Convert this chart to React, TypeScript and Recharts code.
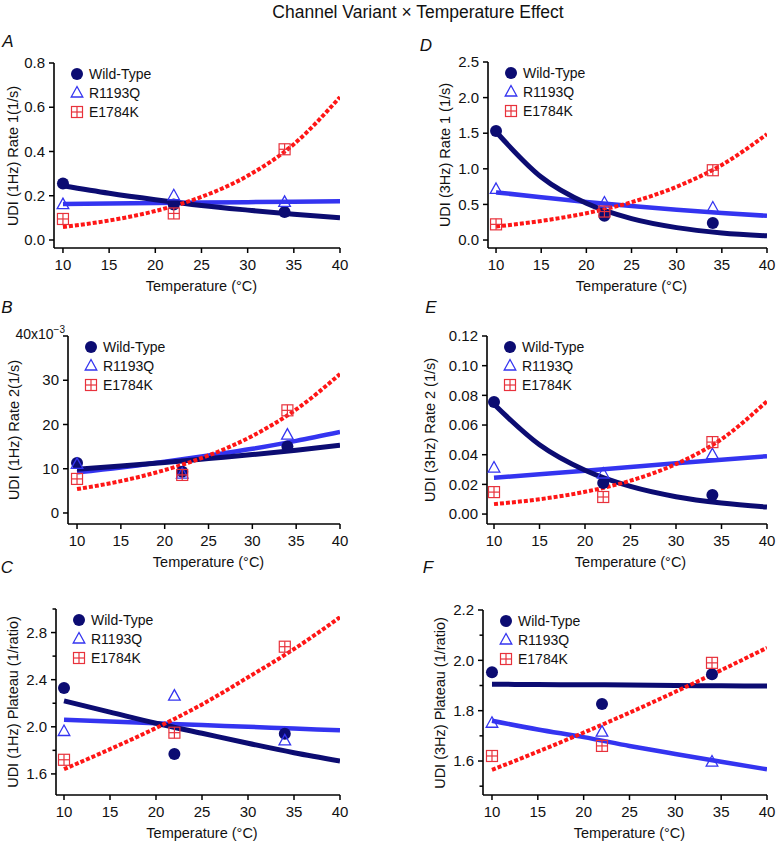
import React from 'react';
import { ComposedChart, Line, Scatter, XAxis, YAxis } from 'recharts';

// measured temperatures and the temperatures the fitted curves were read at
const tempPoints = [10, 22, 34];
const fitTemps = [10, 15, 20, 25, 30, 35, 40];
const xTicks = [10, 15, 20, 25, 30, 35, 40];

// A: UDI (1Hz) Rate 1
const wtRate1Hz1 = [0.255, 0.16, 0.127];
const rRate1Hz1 = [0.16, 0.2, 0.17];
const eRate1Hz1 = [0.095, 0.12, 0.41];
const wtRate1Hz1Fit = [0.245, 0.211, 0.182, 0.156, 0.135, 0.116, 0.1];
const rRate1Hz1Fit = [0.163, 0.165, 0.167, 0.169, 0.171, 0.173, 0.175];
const eRate1Hz1Fit = [0.059, 0.088, 0.131, 0.195, 0.29, 0.433, 0.646];
const rate1Hz1Ticks = [0, 0.2, 0.4, 0.6, 0.8];

// B: UDI (1Hz) Rate 2, in units of 10^-3
const wtRate2Hz1 = [11.3, 9.3, 15];
const rRate2Hz1 = [11, 8.8, 17.6];
const eRate2Hz1 = [7.7, 8.6, 23.2];
const wtRate2Hz1Fit = [9.9, 10.6, 11.4, 12.3, 13.2, 14.2, 15.3];
const rRate2Hz1Fit = [9.2, 10.3, 11.6, 13.0, 14.5, 16.3, 18.3];
const eRate2Hz1Fit = [5.4, 7.2, 9.7, 13.0, 17.4, 23.4, 31.4];
const rate2Hz1Ticks = [0, 10, 20, 30, 40];

// C: UDI (1Hz) Plateau
const wtPlateauHz1 = [2.33, 1.77, 1.94];
const rPlateauHz1 = [1.96, 2.26, 1.88];
const ePlateauHz1 = [1.72, 1.95, 2.68];
const wtPlateauHz1Fit = [2.22, 2.125, 2.03, 1.945, 1.86, 1.78, 1.71];
const rPlateauHz1Fit = [2.06, 2.045, 2.03, 2.015, 2.0, 1.985, 1.97];
const ePlateauHz1Fit = [1.64, 1.81, 1.99, 2.19, 2.42, 2.66, 2.93];
const plateauHz1Ticks = [1.6, 1.8, 2.0, 2.2, 2.4, 2.6, 2.8, 3.0];
const plateauHz1Labels = [1.6, 2.0, 2.4, 2.8];

// D: UDI (3Hz) Rate 1
const wtRate1Hz3 = [1.53, 0.34, 0.24];
const rRate1Hz3 = [0.71, 0.52, 0.45];
const eRate1Hz3 = [0.22, 0.4, 0.98];
const wtRate1Hz3Fit = [1.52, 0.885, 0.515, 0.3, 0.174, 0.1, 0.059];
const rRate1Hz3Fit = [0.67, 0.6, 0.534, 0.477, 0.426, 0.38, 0.34];
const eRate1Hz3Fit = [0.19, 0.268, 0.377, 0.531, 0.749, 1.055, 1.487];
const rate1Hz3Ticks = [0, 0.5, 1.0, 1.5, 2.0, 2.5];

// E: UDI (3Hz) Rate 2
const wtRate2Hz3 = [0.0755, 0.021, 0.0128];
const rRate2Hz3 = [0.031, 0.027, 0.04];
const eRate2Hz3 = [0.0148, 0.0115, 0.0485];
const wtRate2Hz3Fit = [0.074, 0.0467, 0.0295, 0.0186, 0.0117, 0.0074, 0.0047];
const rRate2Hz3Fit = [0.0245, 0.0268, 0.0292, 0.0317, 0.0342, 0.0366, 0.039];
const eRate2Hz3Fit = [0.0067, 0.01, 0.015, 0.0225, 0.0337, 0.0505, 0.076];
const rate2Hz3Ticks = [0, 0.02, 0.04, 0.06, 0.08, 0.1, 0.12];

// F: UDI (3Hz) Plateau
const wtPlateauHz3 = [1.953, 1.827, 1.945];
const rPlateauHz3 = [1.75, 1.715, 1.596];
const ePlateauHz3 = [1.62, 1.66, 1.99];
const wtPlateauHz3Fit = [1.905, 1.904, 1.903, 1.902, 1.9, 1.899, 1.898];
const rPlateauHz3Fit = [1.76, 1.725, 1.695, 1.66, 1.628, 1.597, 1.567];
const ePlateauHz3Fit = [1.565, 1.637, 1.713, 1.792, 1.875, 1.961, 2.05];
const plateauHz3Ticks = [1.5, 1.6, 1.7, 1.8, 1.9, 2.0, 2.1, 2.2];
const plateauHz3Labels = [1.6, 1.8, 2.0, 2.2];

const seriesNames = ['Wild-Type', 'R1193Q', 'E1784K'];

const NAVY = '#0c0c72';
const BLUE = '#3434f0';
const RED = '#ff1616';
const RED_MARK = '#e8323c';
const FONT = '"Liberation Sans", Arial, Helvetica, sans-serif';

const toPts = (xs: number[], ys: number[]) => xs.map((x, i) => ({ x, y: ys[i] }));

const CircleMark = ({ cx, cy }: any) => <circle cx={cx} cy={cy} r={6} fill={NAVY} />;

const TriMark = ({ cx, cy }: any) => (
  <path
    d={`M${cx},${cy - 6.5}L${cx + 5.8},${cy + 4}L${cx - 5.8},${cy + 4}Z`}
    fill="none"
    stroke={BLUE}
    strokeWidth={1.3}
  />
);

const BoxMark = ({ cx, cy }: any) => (
  <g stroke={RED_MARK} strokeWidth={1.2} fill="none">
    <rect x={cx - 5.5} y={cy - 5.5} width={11} height={11} />
    <line x1={cx - 5.5} x2={cx + 5.5} y1={cy} y2={cy} />
    <line x1={cx} x2={cx} y1={cy - 5.5} y2={cy + 5.5} />
  </g>
);

interface PanelCfg {
  letter: string;
  letterX: number;
  letterY: number;
  colLeft: number;
  axisX: number;
  x40: number;
  plotTop: number;
  plotBottom: number;
  xMin: number;
  yDomain: [number, number];
  yTicks: number[];
  yLabels?: number[];
  fmt: (v: number) => string;
  ylabel: string;
  ylabelX: number;
  series: number[][];
  fits: number[][];
}

const panels: PanelCfg[] = [
  {
    letter: 'A', letterX: 2, letterY: 41, colLeft: 0, axisX: 54, x40: 340, plotTop: 63, plotBottom: 248,
    xMin: 9.03, yDomain: [-0.0362, 0.8], yTicks: rate1Hz1Ticks, fmt: (v) => v.toFixed(1),
    ylabel: 'UDI (1Hz) Rate 1(1/s)', ylabelX: 13,
    series: [wtRate1Hz1, rRate1Hz1, eRate1Hz1], fits: [wtRate1Hz1Fit, rRate1Hz1Fit, eRate1Hz1Fit],
  },
  {
    letter: 'B', letterX: 1, letterY: 307, colLeft: 0, axisX: 68, x40: 340, plotTop: 336, plotBottom: 524,
    xMin: 8.97, yDomain: [-2.49, 40], yTicks: rate2Hz1Ticks, fmt: (v) => String(v),
    ylabel: 'UDI (1Hz) Rate 2(1/s)', ylabelX: 14,
    series: [wtRate2Hz1, rRate2Hz1, eRate2Hz1], fits: [wtRate2Hz1Fit, rRate2Hz1Fit, eRate2Hz1Fit],
  },
  {
    letter: 'C', letterX: 1, letterY: 567, colLeft: 0, axisX: 56, x40: 340, plotTop: 609, plotBottom: 795,
    xMin: 9.13, yDomain: [1.421, 3.0], yTicks: plateauHz1Ticks, yLabels: plateauHz1Labels, fmt: (v) => v.toFixed(1),
    ylabel: 'UDI (1Hz) Plateau (1/ratio)', ylabelX: 13,
    series: [wtPlateauHz1, rPlateauHz1, ePlateauHz1], fits: [wtPlateauHz1Fit, rPlateauHz1Fit, ePlateauHz1Fit],
  },
  {
    letter: 'D', letterX: 420, letterY: 45, colLeft: 388, axisX: 488, x40: 767, plotTop: 62, plotBottom: 248,
    xMin: 9.11, yDomain: [-0.112, 2.5], yTicks: rate1Hz3Ticks, fmt: (v) => v.toFixed(1),
    ylabel: 'UDI (3Hz) Rate 1 (1/s)', ylabelX: 445,
    series: [wtRate1Hz3, rRate1Hz3, eRate1Hz3], fits: [wtRate1Hz3Fit, rRate1Hz3Fit, eRate1Hz3Fit],
  },
  {
    letter: 'E', letterX: 425, letterY: 307, colLeft: 388, axisX: 487, x40: 767, plotTop: 336, plotBottom: 524,
    xMin: 9.23, yDomain: [-0.0067, 0.12], yTicks: rate2Hz3Ticks, fmt: (v) => v.toFixed(2),
    ylabel: 'UDI (3Hz) Rate 2 (1/s)', ylabelX: 430,
    series: [wtRate2Hz3, rRate2Hz3, eRate2Hz3], fits: [wtRate2Hz3Fit, rRate2Hz3Fit, eRate2Hz3Fit],
  },
  {
    letter: 'F', letterX: 422, letterY: 567, colLeft: 388, axisX: 483, x40: 767, plotTop: 610, plotBottom: 795,
    xMin: 9.02, yDomain: [1.465, 2.2], yTicks: plateauHz3Ticks, yLabels: plateauHz3Labels, fmt: (v) => v.toFixed(1),
    ylabel: 'UDI (3Hz) Plateau (1/ratio)', ylabelX: 440,
    series: [wtPlateauHz3, rPlateauHz3, ePlateauHz3], fits: [wtPlateauHz3Fit, rPlateauHz3Fit, ePlateauHz3Fit],
  },
];

const Txt = ({ x, y, size = 14.5, rotate = 0, italic = false, children }: any) => (
  <div
    style={{
      position: 'absolute',
      left: x,
      top: y,
      transform: `translate(-50%, -50%) rotate(${rotate}deg)`,
      whiteSpace: 'nowrap',
      fontSize: size,
      fontStyle: italic ? 'italic' : 'normal',
      lineHeight: 1,
      color: '#111',
    }}
  >
    {children}
  </div>
);

function makeYTick(cfg: PanelCfg) {
  const labels = cfg.yLabels ?? cfg.yTicks;
  return (props: any) => {
    const { x, y, payload } = props;
    const v = payload.value;
    const major = labels.some((l) => Math.abs(l - v) < 1e-9);
    const isExp = cfg.letter === 'B' && v === 40;
    return (
      <g>
        <line x1={x} x2={x - (major ? 5 : 3.5)} y1={y} y2={y} stroke="#000" strokeWidth={1.5} />
        {major && !isExp && (
          <text x={x - 9} y={y} dy="0.35em" textAnchor="end" fontSize={15} fill="#111" fontFamily={FONT}>
            {cfg.fmt(v)}
          </text>
        )}
        {isExp && (
          <text x={x - 3} y={y} dy="0.2em" textAnchor="end" fontSize={14} fill="#111" fontFamily={FONT}>
            40x10<tspan dy={-6} fontSize={10}>−3</tspan>
          </text>
        )}
      </g>
    );
  };
}

const XTick = (props: any) => {
  const { x, y, payload } = props;
  return (
    <g>
      <line x1={x} x2={x} y1={y} y2={y + 5} stroke="#000" strokeWidth={1.5} />
      <text x={x} y={y + 17} dy="0.35em" textAnchor="middle" fontSize={15} fill="#111" fontFamily={FONT}>
        {payload.value}
      </text>
    </g>
  );
};

const Legend = ({ left, top }: { left: number; top: number }) => (
  <svg style={{ position: 'absolute', left, top }} width={110} height={60}>
    <CircleMark cx={8} cy={9} />
    <TriMark cx={8} cy={28} />
    <BoxMark cx={8} cy={47} />
    {seriesNames.map((n, i) => (
      <text key={n} x={20} y={9 + i * 19} dy="0.35em" fontSize={14} fill="#111" fontFamily={FONT}>
        {n}
      </text>
    ))}
  </svg>
);

function Panel({ cfg }: { cfg: PanelCfg }) {
  const topPad = 22;
  const chartTop = cfg.plotTop - topPad;
  const height = cfg.plotBottom - cfg.plotTop + topPad + 40;
  const width = 388;
  const yAxisW = cfg.axisX - cfg.colLeft;
  const rightM = cfg.colLeft + width - cfg.x40;
  const pxPerUnit = (cfg.x40 - cfg.axisX) / (40 - cfg.xMin);
  const x25 = cfg.x40 - 15 * pxPerUnit;
  const [wt, r, e] = cfg.series;
  const [wtFit, rFit, eFit] = cfg.fits;
  return (
    <>
      <div style={{ position: 'absolute', left: cfg.colLeft, top: chartTop }}>
        <ComposedChart width={width} height={height} margin={{ top: topPad, right: rightM, bottom: 0, left: 0 }}>
          <XAxis
            type="number"
            dataKey="x"
            domain={[cfg.xMin, 40]}
            ticks={xTicks}
            interval={0}
            allowDataOverflow
            height={40}
            tickSize={0}
            tickMargin={0}
            tickLine={false}
            axisLine={{ stroke: '#000', strokeWidth: 1.6 }}
            tick={<XTick />}
          />
          <YAxis
            type="number"
            dataKey="y"
            domain={cfg.yDomain}
            ticks={cfg.yTicks}
            interval={0}
            allowDataOverflow
            width={yAxisW}
            tickSize={0}
            tickMargin={0}
            tickLine={false}
            axisLine={{ stroke: '#000', strokeWidth: 1.6 }}
            tick={makeYTick(cfg)}
          />
          <Line data={toPts(fitTemps, rFit)} dataKey="y" type="monotone" stroke={BLUE} strokeWidth={4.5} dot={false} activeDot={false} isAnimationActive={false} />
          <Line data={toPts(fitTemps, wtFit)} dataKey="y" type="monotone" stroke={NAVY} strokeWidth={5} dot={false} activeDot={false} isAnimationActive={false} />
          <Line data={toPts(fitTemps, eFit)} dataKey="y" type="monotone" stroke={RED} strokeWidth={4} strokeDasharray="4 2" dot={false} activeDot={false} isAnimationActive={false} />
          <Scatter data={toPts(tempPoints, wt)} dataKey="y" shape={CircleMark} isAnimationActive={false} />
          <Scatter data={toPts(tempPoints, r)} dataKey="y" shape={TriMark} isAnimationActive={false} />
          <Scatter data={toPts(tempPoints, e)} dataKey="y" shape={BoxMark} isAnimationActive={false} />
        </ComposedChart>
      </div>
      <Legend left={cfg.axisX + 15} top={cfg.plotTop + 2} />
      <Txt x={cfg.letterX + 6} y={cfg.letterY} size={17} italic>
        {cfg.letter}
      </Txt>
      <Txt x={cfg.ylabelX} y={(cfg.plotTop + cfg.plotBottom) / 2} rotate={-90}>
        {cfg.ylabel}
      </Txt>
      <Txt x={x25} y={cfg.plotBottom + 38}>
        Temperature (°C)
      </Txt>
    </>
  );
}

export default function App() {
  return (
    <div
      style={{
        position: 'absolute',
        left: 0,
        top: 0,
        width: 776,
        height: 841,
        background: '#fff',
        fontFamily: FONT,
        overflow: 'hidden',
      }}
    >
      <Txt x={418} y={13} size={17.5}>
        Channel Variant × Temperature Effect
      </Txt>
      {panels.map((p) => (
        <Panel key={p.letter} cfg={p} />
      ))}
    </div>
  );
}
